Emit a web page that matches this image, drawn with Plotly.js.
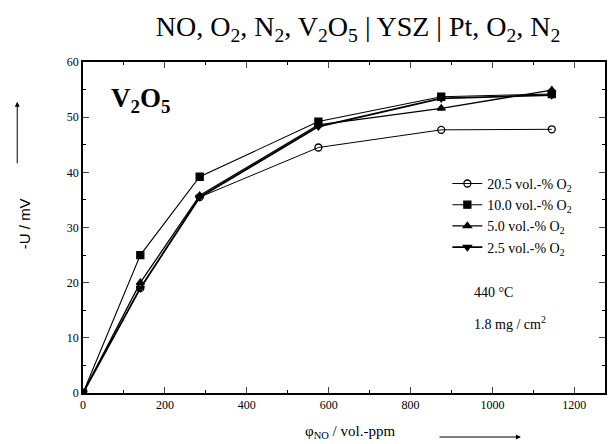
<!DOCTYPE html>
<html><head><meta charset="utf-8">
<script src="https://cdn.plot.ly/plotly-3.0.1.min.js"></script>
<style>body{margin:0;background:#fff}#chart{width:609px;height:444px}</style>
</head><body><div id="chart"></div>
<script>
var xNO = [0, 140, 285, 575, 875, 1145];
var seriesNames = ["20.5 vol.-% O<sub>2</sub>", "10.0 vol.-% O<sub>2</sub>", "5.0 vol.-% O<sub>2</sub>", "2.5 vol.-% O<sub>2</sub>"];
var u205 = [0, 19, 35.5, 44.5, 47.7, 47.8];
var u100 = [0, 25, 39.2, 49.2, 53.7, 54.2];
var u50  = [0, 20, 35.8, 48.6, 51.6, 54.9];
var u25  = [0, 19, 35.5, 48.3, 53.4, 54.0];
var symbols = ["circle-open", "square", "triangle-up", "triangle-down"];
var widths = [1, 1.1, 1.3, 1.8];
var ys = [u205, u100, u50, u25];

var serif = "Liberation Serif, Times New Roman, serif";
var traces = ys.map(function(v, i){
  return {x: xNO, y: v, name: seriesNames[i], type: 'scatter', mode: 'lines+markers',
    line: {color: '#000', width: widths[i]},
    marker: {symbol: symbols[i], size: 7, color: '#000', line: {color: '#000', width: 1.3}}};
});

var layout = {
  width: 609, height: 444,
  margin: {l: 83, r: 4, t: 62, b: 51},
  paper_bgcolor: '#fff', plot_bgcolor: '#fff',
  font: {family: serif, color: '#000', size: 11},
  title: {text: "NO, O<sub>2</sub>, N<sub>2</sub>, V<sub>2</sub>O<sub>5</sub> | YSZ | Pt, O<sub>2</sub>, N<sub>2</sub>",
    font: {family: serif, size: 28, color: '#000'}, x: 0.588, xanchor: 'center', y: 0.94, yanchor: 'middle'},
  xaxis: {range: [0, 1275], dtick: 200, tick0: 0, ticks: 'inside', ticklen: 6, tickwidth: 1.2,
    showline: true, linewidth: 1.5, linecolor: '#000', mirror: 'ticks', showgrid: false, zeroline: false,
    tickfont: {family: serif, size: 12},
    minor: {dtick: 100, ticks: 'inside', ticklen: 3, tickcolor: '#000', showgrid: false}},
  yaxis: {range: [0, 60], dtick: 10, tick0: 0, ticks: 'inside', ticklen: 6, tickwidth: 1.2,
    showline: true, linewidth: 1.5, linecolor: '#000', mirror: 'ticks', showgrid: false, zeroline: false,
    tickfont: {family: serif, size: 12},
    minor: {dtick: 5, ticks: 'inside', ticklen: 3, tickcolor: '#000', showgrid: false}},
  showlegend: true,
  legend: {x: 0.698, y: 0.68, xanchor: 'left', yanchor: 'top', bgcolor: 'rgba(0,0,0,0)',
    font: {family: serif, size: 14}, tracegroupgap: 0, itemwidth: 30},
  annotations: [
    {text: "<b>V<sub>2</sub>O<sub>5</sub></b>", xref: 'paper', yref: 'paper', x: 0.111, y: 0.885, showarrow: false,
      font: {family: serif, size: 27, color: '#000'}, xanchor: 'center', yanchor: 'middle'},
    {text: "440 °C", xref: 'paper', yref: 'paper', x: 0.745, y: 0.305, showarrow: false, xanchor: 'left', yanchor: 'middle',
      font: {family: serif, size: 14}},
    {text: "1.8 mg / cm<sup>2</sup>", xref: 'paper', yref: 'paper', x: 0.745, y: 0.211, showarrow: false, xanchor: 'left', yanchor: 'middle',
      font: {family: serif, size: 14}},
    {text: "φ<sub>NO</sub> / vol.-ppm", xref: 'paper', yref: 'paper', x: 0.511, y: -0.118, showarrow: false,
      xanchor: 'center', yanchor: 'middle', font: {family: serif, size: 15}},
    {text: "", xref: 'paper', yref: 'paper', x: 0.839, y: -0.133, showarrow: true, ax: -83, ay: 0,
      arrowhead: 2, arrowsize: 1, arrowwidth: 1, arrowcolor: '#000'},
    {text: "-U / mV", xref: 'paper', yref: 'paper', x: -0.113, y: 0.51, showarrow: false, textangle: -90,
      xanchor: 'center', yanchor: 'middle', font: {family: 'Liberation Sans, Arial, sans-serif', size: 15}},
    {text: "", xref: 'paper', yref: 'paper', x: -0.126, y: 0.88, showarrow: true, ax: 0, ay: 63,
      arrowhead: 2, arrowsize: 1, arrowwidth: 1, arrowcolor: '#000'}
  ]
};
Plotly.newPlot('chart', traces, layout, {displayModeBar: false});
</script></body></html>
